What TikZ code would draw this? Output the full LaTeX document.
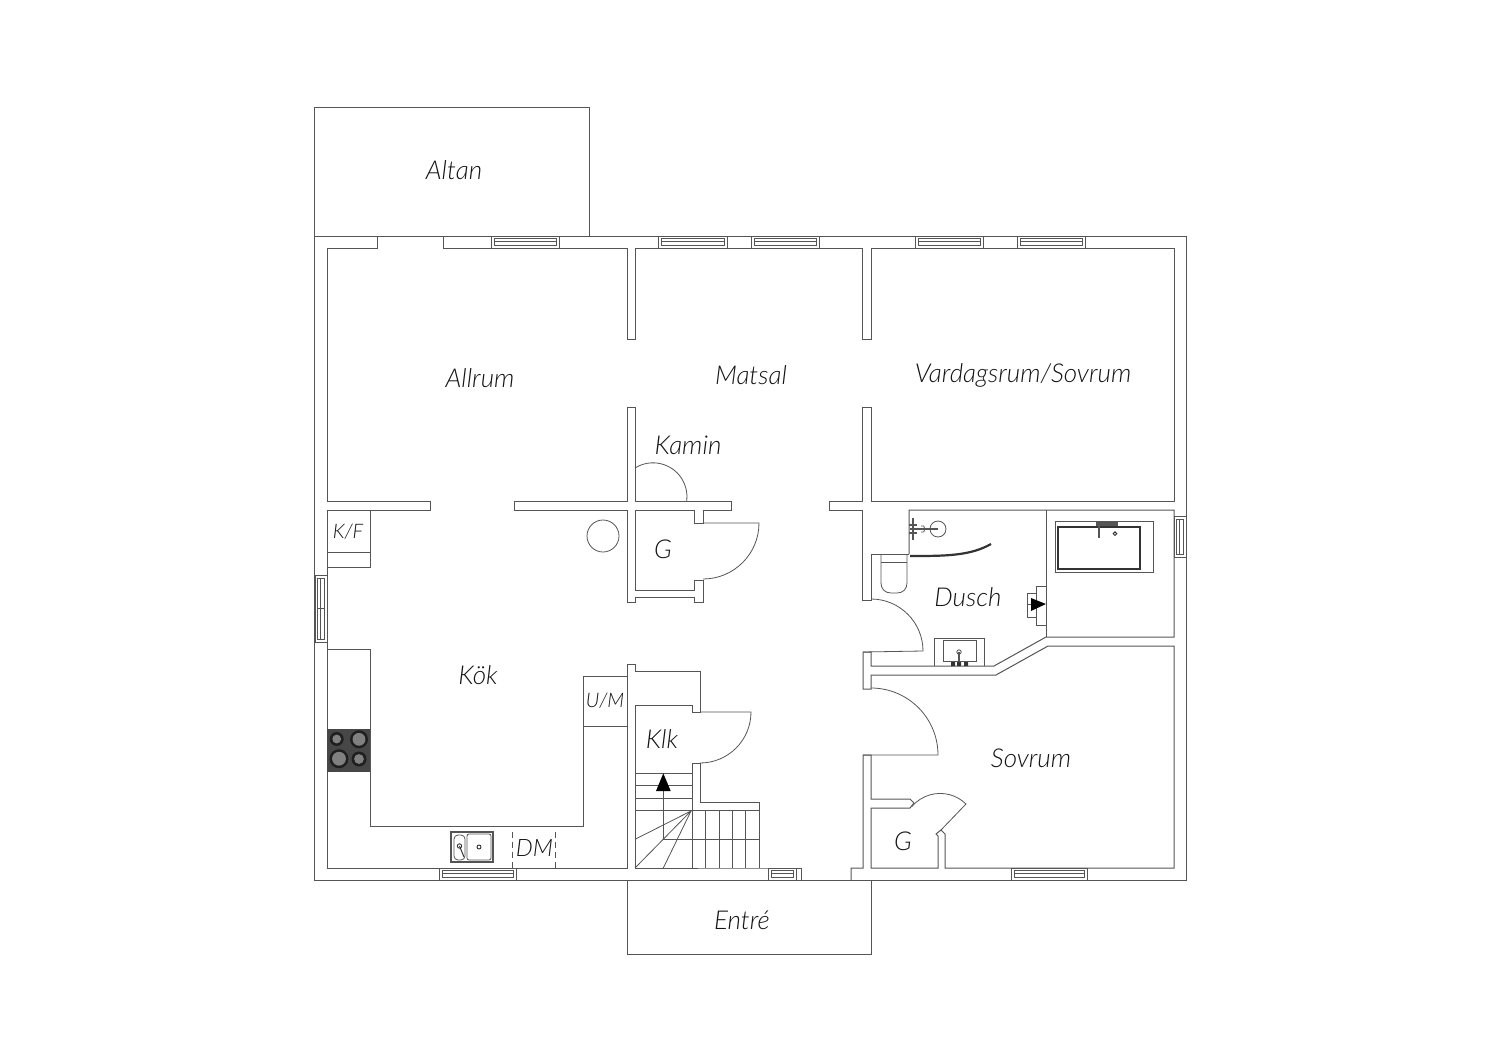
\documentclass[tikz,border=0pt]{standalone}
\usepackage{fontspec}
\setmainfont{Lato Light}[ItalicFont={Lato Light Italic}]
\definecolor{ln}{HTML}{555555}
\definecolor{tx}{HTML}{141414}
\tikzset{
  wall/.style={draw=ln,line width=1pt,line join=miter},
  thin line/.style={draw=ln,line width=0.8pt},
  label/.style={text=tx,font=\itshape\fontsize{26}{26}\selectfont,inner sep=0pt},
  small label/.style={text=tx,font=\itshape\fontsize{20}{20}\selectfont,inner sep=0pt},
}
\newcommand{\winH}[3]{% x1 x2 ytop (12 high)
  \draw[thin line] (#1,#3) rectangle (#2,#3+12);
  \draw[thin line] (#1+3,#3+2.5) rectangle (#2-3,#3+9);
  \draw[thin line] (#1+3,#3+5.7) -- (#2-3,#3+5.7);
}
\newcommand{\winV}[3]{% y1 y2 xleft (12 wide)
  \draw[thin line] (#3,#1) rectangle (#3+12,#2);
  \draw[thin line] (#3+2.5,#1+3) rectangle (#3+9,#2-3);
  \draw[thin line] (#3+5.7,#1+3) -- (#3+5.7,#2-3);
}
\begin{document}
\begin{tikzpicture}[x=1pt,y=-1pt]
\useasboundingbox (0,0) rectangle (1500,1060);
\fill[white] (0,0) rectangle (1500,1060);
% outer and porches
\draw[wall] (314,236) rectangle (1186,880);
\draw[wall] (314,236) -- (314,107) -- (589,107) -- (589,236);
\draw[wall] (627,880) -- (627,954) -- (871,954) -- (871,880);
% Allrum
\draw[wall] (430,501) -- (327,501) -- (327,248) -- (377,248) -- (377,236);
\draw[wall] (443,236) -- (443,248) -- (627,248) -- (627,339) -- (635,339) -- (635,248) -- (862,248) -- (862,339) -- (871,339) -- (871,248) -- (1174,248) -- (1174,501) -- (871,501) -- (871,407) -- (862,407) -- (862,501) -- (829,501) -- (829,510) -- (862,510) -- (862,600) -- (871,600) -- (871,554) -- (909,554);
\draw[wall] (430,501) -- (430,510) -- (327,510) -- (327,575);
\draw[wall] (327,642) -- (327,868) -- (627,868) -- (627,664) -- (635,664) -- (635,671) -- (700,671) -- (700,712) -- (692,712) -- (692,705) -- (635,705) -- (635,868) -- (759,868) -- (801,868) -- (801,880);
% central walls
\draw[wall] (514,501) -- (627,501) -- (627,407) -- (635,407) -- (635,501) -- (731,501) -- (731,510) -- (703,510) -- (703,523) -- (694,523) -- (694,510) -- (635,510) -- (635,590) -- (694,590) -- (694,580) -- (703,580) -- (703,602) -- (694,602) -- (694,597) -- (635,597) -- (635,602) -- (627,602) -- (627,510) -- (514,510) -- cycle;
% Kamin arc and G door
\draw[thin line] (635,468) arc[start angle=122,end angle=-7,radius=34pt];
\draw[thin line] (703,523) -- (759,523) arc[start angle=0,end angle=-90,radius=56pt];
\draw[thin line] (603,536) circle[radius=16pt];
% Dusch / bath walls
\draw[wall] (909,554) -- (909,510) -- (1174,510) -- (1174,637) -- (1046,637) -- (994,666) -- (871,666) -- (871,652) -- (863,652) -- (863,689) -- (871,689) -- (871,675) -- (996,675) -- (1048,646) -- (1174,646) -- (1174,868) -- (945,868) -- (945,834) -- (941,830) -- (936,834) -- (938,836) -- (938,868) -- (871,868) -- (871,808) -- (910,808) -- (914,803) -- (910,799) -- (871,799) -- (871,755) -- (863,755) -- (863,868) -- (851,868) -- (851,880);
\draw[wall] (1046,510) -- (1046,637);
% doors right
\draw[thin line] (871,599) arc[start angle=90,end angle=0,radius=52pt] -- (863,652);
\draw[thin line] (871,688) arc[start angle=90,end angle=0,radius=67pt] -- (863,755);
\draw[thin line] (941,830) -- (966,804) arc[start angle=45.6,end angle=140,radius=37pt];
% windows
\winH{491}{559}{236}
\winH{658}{727}{236}
\winH{751}{819}{236}
\winH{915}{983}{236}
\winH{1017}{1085}{236}
\winH{439}{516}{868}
\winH{768}{796}{868}
\winH{1011}{1087}{868}
\winV{575}{642}{315}
\draw[thin line] (317.5,608) -- (324,608);
\winV{516}{557}{1174}
% bath tub
\draw[thin line] (1055,521) rectangle (1153,572);
\draw[draw=black!80,line width=1.6pt] (1058,527) rectangle (1140,569);
\fill[ln] (1096,522) rectangle (1118,526);
\draw[draw=ln,line width=1.2pt] (1099,523) -- (1099,538);
\draw[draw=black!80,line width=1pt] (1115,533.7) circle[radius=1.8pt];
% shower
\draw[thin line] (938,529) circle[radius=8pt];
\draw[draw=ln,line width=1.2pt] (913,518) -- (913,540);
\draw[draw=ln,line width=1.2pt] (910,529) -- (938,529);
\draw[draw=ln,line width=1.2pt] (909,525) -- (917,525) (909,533) -- (917,533);
\draw[thin line] (921,526) .. controls (926,523) and (926,535) .. (921,532);
\draw[draw=black!80,line width=2.2pt] (910,556) .. controls (945,556) and (970,556) .. (991,544);
% toilet
\draw[thin line] (881,554) -- (881,583) .. controls (881,589) and (885,593) .. (891,593) -- (897,593) .. controls (903,593) and (907,589) .. (907,583) -- (907,554);
\draw[thin line] (881,562) -- (907,562);
% heater
\draw[thin line] (1027,593) rectangle (1036,617);
\draw[thin line] (1036,586) rectangle (1046,625);
\draw[thin line] (1027,604) -- (1031,604);
\fill[black] (1031,598) -- (1046,604) -- (1031,611) -- cycle;
% washbasin
\draw[thin line] (934,666) -- (934,638) -- (984,638) -- (984,666);
\draw[thin line] (943,661) -- (943,640) -- (976,640) -- (976,661) -- cycle;
\draw[draw=ln,line width=1.2pt] (959,652) -- (959,665);
\draw[thin line] (959,652) circle[radius=2.2pt];
\fill[black!80] (951,662) rectangle (955,666) (957,662) rectangle (961,666) (964,662) rectangle (968,666);
% kitchen fittings
\draw[thin line] (327,510) -- (370,510) -- (370,567) -- (327,567);
\draw[thin line] (327,552) -- (370,552);
\draw[thin line] (327,649) -- (370,649) -- (370,826) -- (583,826) -- (583,676) -- (627,676);
\draw[thin line] (583,726) -- (627,726);
\fill[black!72] (327,729) rectangle (370,772);
\foreach \bx/\by/\br in {336.7/739/7,359/739.3/9,339/758.7/9.5,359/759/7.5}{
  \fill[black!88] (\bx,\by) circle[radius=\br pt];
  \fill[black!50] (\bx,\by) circle[radius=\br pt-2.6pt];
}
% kitchen sink
\draw[draw=ln,line width=1.2pt] (451,832) rectangle (493,862);
\draw[thin line,rounded corners=2pt] (467,834) rectangle (491,860);
\draw[thin line,rounded corners=4pt] (454,835) rectangle (465,860);
\draw[draw=black!80,line width=0.9pt] (459.5,846) circle[radius=2.2pt];
\draw[draw=black!80,line width=0.9pt] (479,847) circle[radius=2pt];
\draw[draw=black!80,line width=1pt] (459.5,846) -- (464,857);
\draw[thin line,dashed,dash pattern=on 6pt off 4pt] (512,832) -- (512,868);
\draw[thin line,dashed,dash pattern=on 6pt off 4pt] (555,832) -- (555,868);
% stairs
\draw[thin line] (692,763) -- (692,868);
\draw[thin line] (692,763) -- (700,763) -- (700,802) -- (759,802) -- (759,868);
\draw[thin line] (700,763) arc[start angle=-90,end angle=0,radius=51pt] -- (700,712);
\foreach \sy in {773.3,785.7,798.3,810.3}{\draw[thin line] (635,\sy) -- (692,\sy);}
\draw[thin line] (692,810.3) -- (759,810.3);
\draw[thin line] (663.3,839.3) -- (759,839.3);
\foreach \sx in {705.7,719,732.3,745.7}{\draw[thin line] (\sx,810.3) -- (\sx,868);}
\draw[thin line] (635,839.3) -- (691,811) -- (635,868);
\draw[thin line] (663.3,868) -- (691,811);
\draw[thin line] (663.3,790) -- (663.3,839.3);
\fill[black] (663.3,773.3) -- (656,791) -- (670.7,791) -- cycle;
% labels
\node[label] (altan) at (454,170) {Altan};
\node[label] (allrum) at (480,378) {Allrum};
\node[label] (matsal) at (751,375) {Matsal};
\node[label] (vard) at (1023,375) {Vardagsrum/Sovrum};
\node[label] (kamin) at (688,445) {Kamin};
\node[label] (g1) at (663,549) {G};
\node[small label] (kf) at (348,532) {K/F};
\node[label] (dusch) at (968,597) {Dusch};
\node[label] (kok) at (478,675) {Kök};
\node[small label] (um) at (605,701) {U/M};
\node[label] (klk) at (662,739) {Klk};
\node[label] (sovrum) at (1031,758) {Sovrum};
\node[label] (g2) at (903,841) {G};
\node[label,font=\itshape\fontsize{24}{24}\selectfont] (dm) at (534.5,848) {DM};
\node[label] (entre) at (742,920) {Entré};
\end{tikzpicture}
\end{document}
